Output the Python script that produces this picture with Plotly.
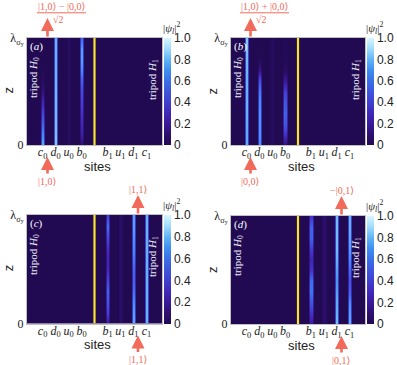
import plotly.graph_objects as go

# z levels (fraction of lambda_sigma_y), bottom to top
z_levels = [0.0, 0.1, 0.2, 0.3, 0.4, 0.5, 0.6, 0.7, 0.8, 0.9, 1.0]

# site positions along the chain; the middle site (4) is the yellow coupler
site_index = [0, 1, 2, 3, 5, 6, 7, 8]
site_labels = ["<i>c</i><sub>0</sub>", "<i>d</i><sub>0</sub>", "<i>u</i><sub>0</sub>", "<i>b</i><sub>0</sub>",
               "<i>b</i><sub>1</sub>", "<i>u</i><sub>1</sub>", "<i>d</i><sub>1</sub>", "<i>c</i><sub>1</sub>"]
coupler_site = 4

# |psi_l|^2 per site (order c0 d0 u0 b0 b1 u1 d1 c1), each profile from z=0 to z=1
prob_a = [
    [0.78, 0.68, 0.56, 0.42, 0.27, 0.13, 0.05, 0.01, 0.0, 0.0, 0.0],
    [0.85, 0.84, 0.83, 0.82, 0.82, 0.82, 0.81, 0.81, 0.80, 0.80, 0.80],
    [0.05, 0.05, 0.05, 0.05, 0.05, 0.05, 0.05, 0.05, 0.05, 0.05, 0.05],
    [0.10, 0.25, 0.30, 0.35, 0.40, 0.45, 0.55, 0.70, 0.75, 0.75, 0.60],
    [0.0, 0.0, 0.0, 0.0, 0.0, 0.0, 0.0, 0.0, 0.0, 0.0, 0.0],
    [0.0, 0.0, 0.0, 0.0, 0.0, 0.0, 0.0, 0.0, 0.0, 0.0, 0.0],
    [0.0, 0.0, 0.0, 0.0, 0.0, 0.0, 0.0, 0.0, 0.0, 0.0, 0.0],
    [0.0, 0.0, 0.0, 0.0, 0.0, 0.0, 0.0, 0.0, 0.0, 0.0, 0.0],
]
prob_b = [
    [0.78, 0.78, 0.79, 0.80, 0.80, 0.80, 0.80, 0.81, 0.82, 0.83, 0.85],
    [0.70, 0.72, 0.72, 0.72, 0.70, 0.65, 0.50, 0.15, 0.02, 0.0, 0.0],
    [0.04, 0.04, 0.04, 0.04, 0.04, 0.04, 0.04, 0.04, 0.04, 0.04, 0.04],
    [0.12, 0.35, 0.50, 0.55, 0.50, 0.40, 0.20, 0.05, 0.02, 0.02, 0.02],
    [0.0, 0.0, 0.0, 0.0, 0.0, 0.0, 0.0, 0.0, 0.0, 0.0, 0.0],
    [0.0, 0.0, 0.0, 0.0, 0.0, 0.0, 0.0, 0.0, 0.0, 0.0, 0.0],
    [0.0, 0.0, 0.0, 0.0, 0.0, 0.0, 0.0, 0.0, 0.0, 0.0, 0.0],
    [0.0, 0.0, 0.0, 0.0, 0.0, 0.0, 0.0, 0.0, 0.0, 0.0, 0.0],
]
prob_c = [
    [0.0, 0.0, 0.0, 0.0, 0.0, 0.0, 0.0, 0.0, 0.0, 0.0, 0.0],
    [0.0, 0.0, 0.0, 0.0, 0.0, 0.0, 0.0, 0.0, 0.0, 0.0, 0.0],
    [0.0, 0.0, 0.0, 0.0, 0.0, 0.0, 0.0, 0.0, 0.0, 0.0, 0.0],
    [0.0, 0.0, 0.0, 0.0, 0.0, 0.0, 0.0, 0.0, 0.0, 0.0, 0.0],
    [0.20, 0.40, 0.50, 0.55, 0.42, 0.30, 0.28, 0.32, 0.45, 0.60, 0.40],
    [0.07, 0.07, 0.07, 0.07, 0.07, 0.07, 0.07, 0.07, 0.07, 0.07, 0.07],
    [0.78, 0.75, 0.70, 0.62, 0.55, 0.58, 0.65, 0.70, 0.72, 0.75, 0.75],
    [0.80, 0.80, 0.80, 0.80, 0.80, 0.80, 0.80, 0.80, 0.80, 0.80, 0.80],
]
prob_d = [
    [0.0, 0.0, 0.0, 0.0, 0.0, 0.0, 0.0, 0.0, 0.0, 0.0, 0.0],
    [0.0, 0.0, 0.0, 0.0, 0.0, 0.0, 0.0, 0.0, 0.0, 0.0, 0.0],
    [0.0, 0.0, 0.0, 0.0, 0.0, 0.0, 0.0, 0.0, 0.0, 0.0, 0.0],
    [0.0, 0.0, 0.0, 0.0, 0.0, 0.0, 0.0, 0.0, 0.0, 0.0, 0.0],
    [0.20, 0.35, 0.50, 0.62, 0.60, 0.35, 0.28, 0.40, 0.55, 0.55, 0.35],
    [0.08, 0.08, 0.08, 0.08, 0.08, 0.08, 0.08, 0.08, 0.08, 0.08, 0.08],
    [0.82, 0.80, 0.78, 0.75, 0.72, 0.75, 0.80, 0.82, 0.82, 0.82, 0.82],
    [0.78, 0.75, 0.70, 0.55, 0.50, 0.60, 0.70, 0.75, 0.78, 0.80, 0.80],
]

panel_names = ["(<i>a</i>)", "(<i>b</i>)", "(<i>c</i>)", "(<i>d</i>)"]
top_states = ["|1,0⟩ − |0,0⟩", "|1,0⟩ + |0,0⟩", "|1,1⟩", "−|0,1⟩"]
bottom_states = ["|1,0⟩", "|0,0⟩", "|1,1⟩", "|0,1⟩"]

W, H = 397, 365
SERIF = "Liberation Serif, DejaVu Serif, serif"
SANS = "Liberation Sans, Arial, sans-serif"
RED = "#f26b5a"
BG = "#210a52"
colorscale = [[0.0, BG], [0.1, "#2e0f70"], [0.2, "#3a1a9a"], [0.3, "#4028b8"],
              [0.4, "#4040d0"], [0.5, "#3e56dc"], [0.6, "#3a70e8"], [0.7, "#3f90f0"],
              [0.8, "#62b4f6"], [0.9, "#a0dcff"], [1.0, "#d8f6ff"]]

def px(x):
    return x / W

def py(y):
    return 1 - y / H

def note(x, y, text, size, color, family=SERIF, angle=0):
    return dict(x=px(x), y=py(y), xref="paper", yref="paper", xanchor="center", yanchor="middle",
                text=text, showarrow=False, textangle=angle, font=dict(family=family, size=size, color=color))

def arrow(x, tip, tail):
    return dict(x=px(x), y=py(tip), xref="paper", yref="paper", ax=0, ay=tail - tip, text="",
                showarrow=True, arrowhead=2, arrowsize=1, arrowwidth=2.6, arrowcolor=RED, standoff=0)

# pixel boxes of the four plot areas: left, right, top, bottom
boxes = [(27, 162, 38, 145), (231, 365, 38, 145), (27, 162, 215, 323.5), (231, 365, 216, 324)]
x_lo, x_hi = -1.2, 9.2
core_w, edge_w = 0.06, 0.22

def grid(profiles):
    zeros = [0.0] * len(z_levels)
    xs, cols = [x_lo], [zeros]
    for pos, prof in zip(site_index, profiles):
        xs += [pos - edge_w, pos - core_w, pos + core_w, pos + edge_w]
        cols += [zeros, prof, prof, zeros]
    xs.append(x_hi)
    cols.append(zeros)
    z = [[c[r] for c in cols] for r in range(len(z_levels))]
    return xs, z

fig = go.Figure()
annotations, shapes = [], []
arrow_x = [47.5, 250.5, 138, 341.5]

for k, probs in enumerate([prob_a, prob_b, prob_c, prob_d]):
    n = "" if k == 0 else str(k + 1)
    l, r, t, b = boxes[k]
    xs, z = grid(probs)
    fig.add_trace(go.Heatmap(x=xs, y=z_levels, z=z, zsmooth="best", coloraxis="coloraxis" + n,
                             xaxis="x" + n, yaxis="y" + n, hoverinfo="skip"))
    fig.add_trace(go.Scatter(x=[coupler_site, coupler_site], y=[0, 1], mode="lines",
                             line=dict(color="#f7e22c", width=2.2), xaxis="x" + n, yaxis="y" + n,
                             showlegend=False, hoverinfo="skip"))
    fig.layout["xaxis" + n] = dict(domain=[px(l), px(r)], range=[x_lo, x_hi], anchor="y" + n,
                                   tickvals=site_index, ticktext=site_labels, ticks="", ticklen=0,
                                   ticklabelstandoff=-4, automargin=False,
                                   tickfont=dict(family=SERIF, size=12, color="#222"),
                                   showgrid=False, zeroline=False, showline=True,
                                   linecolor="#c0c0c0", linewidth=1, mirror=True)
    fig.layout["yaxis" + n] = dict(domain=[py(b), py(t)], range=[0, 1], anchor="x" + n,
                                   tickvals=[0, 1], ticktext=["0", "λ<sub>σ<sub>y</sub></sub>"], ticks="",
                                   ticklen=0, automargin=False,
                                   tickfont=dict(family=SERIF, size=12, color="#222"),
                                   showgrid=False, zeroline=False, showline=True,
                                   linecolor="#c0c0c0", linewidth=1, mirror=True)
    fig.layout["coloraxis" + n] = dict(colorscale=colorscale, cmin=0, cmax=1, colorbar=dict(
        x=px(r + 1.5), xanchor="left", xpad=0, y=py(t), yanchor="top", ypad=0, len=b - t,
        lenmode="pixels", thickness=7, outlinewidth=0, ticks="", ticklen=2,
        tickvals=[0, 0.2, 0.4, 0.6, 0.8, 1.0], ticktext=["0", "0.2", "0.4", "0.6", "0.8", "1.0"],
        tickfont=dict(family=SANS, size=12, color="#222")))

    # in-plot labels
    annotations.append(note(l + 9, t + 8, panel_names[k], 11, "white"))
    annotations.append(note(l + 7, t + 40, "tripod <i>H</i><sub>0</sub>", 11, "#e8e8f4", angle=-90))
    annotations.append(note(r - 9, t + 42, "tripod <i>H</i><sub>1</sub>", 11, "#e8e8f4", angle=-90))
    # axis titles and colorbar title
    annotations.append(note(l + 70, b + 21, "sites", 13, "#222", family=SANS))
    annotations.append(note(l - 19, (t + b) / 2 - 1, "z", 13, "#222", family=SANS, angle=-90))
    annotations.append(note(r + 9, t - 10, "|<i>ψ<sub>l</sub></i>|<sup>2</sup>", 11, "#222"))

    # red arrows: top one leaving the chain, bottom one entering it
    ax_ = arrow_x[k]
    annotations.append(arrow(ax_, t - 20, t))
    annotations.append(arrow(ax_, b + 12, b + 30))
    annotations.append(note(ax_, b + 36, bottom_states[k], 10, RED))
    if k < 2:
        cx = ax_ + 14
        annotations.append(note(cx, 6.5, top_states[k], 10, RED))
        annotations.append(note(cx - 3, 19.5, "√2", 10, RED))
        shapes.append(dict(type="line", xref="paper", yref="paper", x0=px(cx - 24.5), x1=px(cx + 24.5),
                           y0=py(12.8), y1=py(12.8), line=dict(color=RED, width=1)))
    else:
        annotations.append(note(ax_, t - 26, top_states[k], 10, RED))

fig.update_layout(width=W, height=H, margin=dict(l=0, r=0, t=0, b=0, autoexpand=False), showlegend=False,
                  paper_bgcolor="white", plot_bgcolor=BG, annotations=annotations, shapes=shapes)
# the page body has an 8px default margin; drop it so the figure fills the window
fig.write_html("out.html", config={"displayModeBar": False},
               post_script="document.body.style.margin = '0';")
